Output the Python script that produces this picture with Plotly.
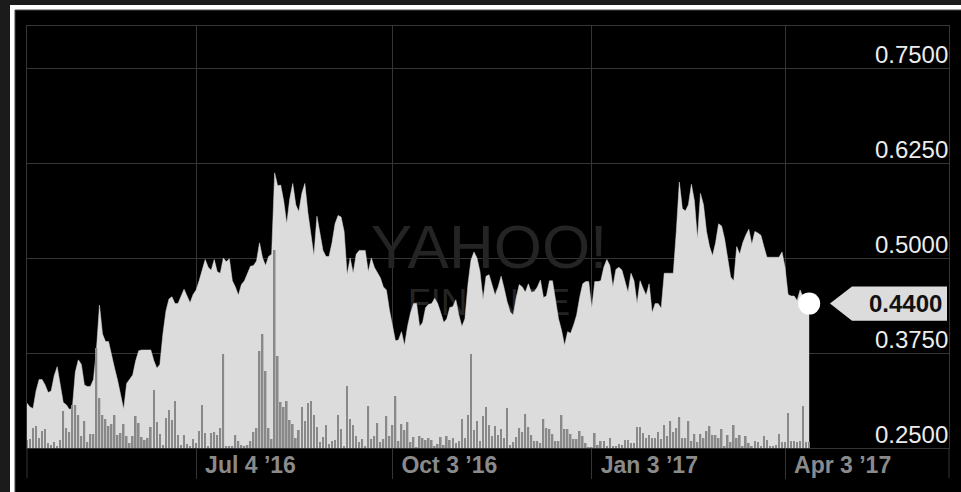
import pandas as pd
import plotly.graph_objects as go

# ---- data ----
start_date = "2016-04-15"          # first trading day shown
axis_end = "2017-06-16 07:00"      # right edge of the time axis

price = [
    0.309, 0.304, 0.302, 0.325, 0.340, 0.340, 0.333, 0.323, 0.325, 0.345,
    0.357, 0.335, 0.310, 0.307, 0.301, 0.302, 0.350, 0.366, 0.360, 0.333,
    0.331, 0.331, 0.340, 0.380, 0.438, 0.400, 0.390, 0.390, 0.370, 0.355,
    0.339, 0.320, 0.301, 0.335, 0.341, 0.346, 0.365, 0.378, 0.379, 0.379,
    0.379, 0.379, 0.365, 0.355, 0.360, 0.400, 0.430, 0.446, 0.449, 0.440,
    0.440, 0.450, 0.459, 0.450, 0.441, 0.452, 0.458, 0.470, 0.486, 0.498,
    0.488, 0.484, 0.498, 0.482, 0.480, 0.500, 0.495, 0.499, 0.470, 0.462,
    0.451, 0.465, 0.470, 0.480, 0.489, 0.490, 0.496, 0.520, 0.500, 0.490,
    0.502, 0.505, 0.612, 0.595, 0.596, 0.575, 0.545, 0.578, 0.598, 0.570,
    0.561, 0.585, 0.598, 0.560, 0.530, 0.503, 0.555, 0.535, 0.510, 0.502,
    0.502, 0.520, 0.545, 0.556, 0.554, 0.535, 0.478, 0.500, 0.480, 0.505,
    0.510, 0.510, 0.510, 0.482, 0.500, 0.488, 0.480, 0.474, 0.462, 0.458,
    0.432, 0.410, 0.391, 0.392, 0.403, 0.385, 0.410, 0.428, 0.440, 0.440,
    0.410, 0.415, 0.435, 0.439, 0.440, 0.447, 0.440, 0.428, 0.415, 0.420,
    0.435, 0.436, 0.445, 0.425, 0.410, 0.420, 0.465, 0.497, 0.508, 0.500,
    0.482, 0.445, 0.476, 0.478, 0.465, 0.451, 0.462, 0.476, 0.460, 0.442,
    0.429, 0.425, 0.448, 0.465, 0.462, 0.455, 0.466, 0.455, 0.456, 0.462,
    0.471, 0.448, 0.450, 0.470, 0.470, 0.445, 0.420, 0.405, 0.385, 0.403,
    0.401, 0.412, 0.425, 0.448, 0.466, 0.469, 0.469, 0.434, 0.469, 0.469,
    0.470, 0.488, 0.498, 0.490, 0.462, 0.485, 0.488, 0.484, 0.470, 0.455,
    0.480, 0.470, 0.440, 0.470, 0.460, 0.451, 0.466, 0.428, 0.440, 0.440,
    0.434, 0.480, 0.480, 0.480, 0.480, 0.535, 0.600, 0.565, 0.562, 0.570,
    0.597, 0.575, 0.525, 0.585, 0.570, 0.535, 0.515, 0.503, 0.520, 0.545,
    0.542, 0.525, 0.500, 0.475, 0.470, 0.515, 0.505, 0.520, 0.530, 0.538,
    0.518, 0.535, 0.533, 0.530, 0.515, 0.501, 0.501, 0.501, 0.501, 0.501,
    0.508, 0.488, 0.452, 0.450, 0.450, 0.444, 0.458, 0.448, 0.442, 0.440,
]

# daily volume (relative units)
volume = [
    8, 9, 20, 22, 10, 17, 19, 5, 3, 6,
    2, 8, 37, 20, 16, 43, 43, 33, 12, 27,
    6, 14, 14, 100, 50, 33, 29, 22, 24, 33,
    13, 15, 24, 12, 5, 12, 32, 25, 11, 8,
    10, 21, 58, 26, 14, 3, 30, 38, 28, 47,
    13, 3, 13, 4, 2, 9, 5, 17, 43, 15,
    2, 15, 16, 13, 20, 94, 2, 2, 2, 13,
    7, 3, 2, 3, 7, 16, 20, 97, 114, 77,
    20, 9, 198, 92, 46, 41, 47, 28, 24, 10,
    18, 41, 27, 45, 47, 33, 21, 6, 11, 23,
    4, 7, 8, 33, 19, 2, 62, 29, 23, 12,
    6, 9, 2, 42, 9, 12, 25, 6, 9, 32,
    12, 23, 52, 7, 24, 18, 26, 6, 11, 1,
    12, 10, 8, 10, 8, 2, 4, 11, 3, 12,
    8, 10, 5, 7, 29, 10, 33, 94, 18, 27,
    7, 32, 41, 23, 12, 22, 13, 19, 10, 40,
    3, 6, 11, 20, 16, 34, 21, 13, 7, 7,
    5, 29, 20, 19, 14, 7, 7, 33, 19, 19,
    14, 9, 9, 17, 12, 5, 1, 1, 15, 3,
    7, 7, 2, 10, 2, 2, 4, 3, 8, 8,
    5, 5, 21, 21, 15, 10, 13, 10, 10, 16,
    9, 23, 12, 27, 16, 20, 31, 10, 10, 27,
    7, 14, 6, 14, 10, 17, 22, 13, 13, 10,
    19, 2, 13, 6, 23, 10, 13, 2, 12, 5,
    2, 7, 6, 2, 12, 8, 2, 2, 3, 14,
    6, 6, 35, 7, 7, 6, 7, 42, 6, 6,
]

tick_dates = ["2016-07-04", "2016-10-03", "2017-01-03", "2017-04-03"]
tick_labels = ["Jul 4 \u201916", "Oct 3 \u201916", "Jan 3 \u201917", "Apr 3 \u201917"]
price_ticks = [0.25, 0.375, 0.5, 0.625, 0.75]
price_range = [0.25, 0.8053]
volume_range = [0, 422]

dates = pd.bdate_range(start_date, periods=len(price))
axis_days = pd.bdate_range(start_date, axis_end)
mid_date = axis_days[len(axis_days) // 2]
last_price = price[-1]

FONT = "Liberation Sans, Arial, Helvetica, sans-serif"
GRID = "#353535"

fig = go.Figure()

# watermark (drawn first so the area covers it)
fig.add_trace(go.Scatter(
    x=[mid_date, mid_date], y=[0.507, 0.437], mode="text",
    text=["YAHOO!", "FINANCE"],
    textfont=dict(family=FONT, size=[62, 37], color="#242424"),
    hoverinfo="skip", cliponaxis=False,
))

# price area
fig.add_trace(go.Scatter(
    x=dates, y=price, mode="lines",
    line=dict(color="#dcdcdc", width=0.5),
    fill="tozeroy", fillcolor="#dcdcdc", hoverinfo="skip",
))

# last-price dot
fig.add_trace(go.Scatter(
    x=[dates[-1]], y=[last_price], mode="markers",
    marker=dict(size=22, color="white", line=dict(width=0)),
    cliponaxis=False, hoverinfo="skip",
))

# volume bars
fig.add_trace(go.Bar(
    x=dates, y=volume, yaxis="y2",
    marker=dict(color="#898989", line=dict(width=0)),
    hoverinfo="skip",
))

fig.update_layout(
    width=961, height=492,
    margin=dict(l=27, r=12, t=26, b=44),
    paper_bgcolor="#1b1b1b", plot_bgcolor="black",
    showlegend=False, bargap=0.45,
    font=dict(family=FONT),
    xaxis=dict(
        type="date", range=[dates[0], axis_end],
        rangebreaks=[dict(bounds=["sat", "mon"])],
        tickvals=tick_dates, ticktext=tick_labels,
        ticks="outside", ticklen=30, tickcolor=GRID, tickwidth=1,
        ticklabelposition="outside right", ticklabelstandoff=-4,
        ticklabelshift=8,
        tickfont=dict(size=23, color="#8a8a8a", weight="bold"),
        showgrid=True, gridcolor=GRID, gridwidth=1,
        showline=True, linecolor=GRID, linewidth=1, mirror=True,
        zeroline=False,
    ),
    yaxis=dict(
        range=price_range, side="right",
        tickvals=price_ticks, tickformat=".4f",
        ticks="", ticklabelposition="inside top",
        ticklabelstandoff=2, ticklabelshift=3,
        tickfont=dict(size=24, color="#ececec"),
        showgrid=True, gridcolor=GRID, gridwidth=1,
        showline=True, linecolor=GRID, linewidth=1, mirror=True,
        zeroline=False,
    ),
    yaxis2=dict(overlaying="y", range=volume_range, visible=False),
)

# page frame: white border on top/left, black panel
fig.add_shape(type="rect", xref="paper", yref="paper", layer="below",
              x0=-0.01844, x1=1.03, y0=-0.12, y1=1.04976,
              fillcolor="white", line=dict(width=0))
fig.add_shape(type="rect", xref="paper", yref="paper", layer="below",
              x0=-0.01302, x1=1.03, y0=-0.12, y1=1.03791,
              fillcolor="black", line=dict(color="#4a4a4a", width=1))
# frame lines continuing below the plot
for xp in (0, 1):
    fig.add_shape(type="line", xref="paper", yref="paper",
                  x0=xp, x1=xp, y0=-0.0711, y1=0,
                  line=dict(color=GRID, width=1))

# last-price flag
half = 0.0224
fig.add_shape(type="path", xref="paper", yref="y", layer="above",
              path=(f"M 0.8709,{last_price} L 0.8948,{last_price + half} "
                    f"L 0.9978,{last_price + half} L 0.9978,{last_price - half} "
                    f"L 0.8948,{last_price - half} Z"),
              fillcolor="#dcdcdc", line=dict(width=0))
fig.add_annotation(x=1, xref="paper", xanchor="right", xshift=-5,
                   y=last_price, yref="y", showarrow=False,
                   text=f"<b>{last_price:.4f}</b>",
                   font=dict(size=24, color="#111111", family=FONT))

fig.write_html(
    "out.html",
    config={"displayModeBar": False},
    post_script="document.body.style.margin='0';"
                "document.body.style.background='#1b1b1b';",
)
